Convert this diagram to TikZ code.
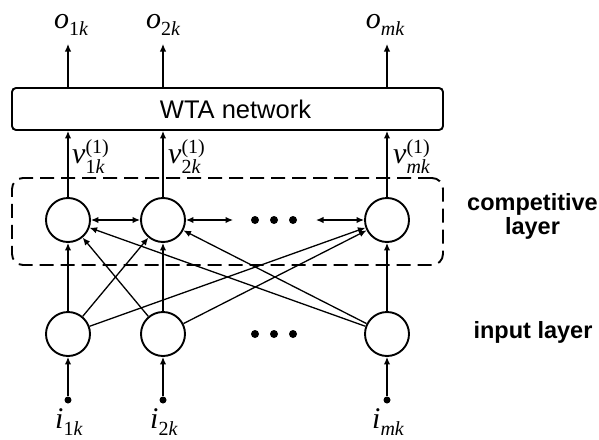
\documentclass[tikz,border=0pt]{standalone}
\usepackage{fontspec}
\setmainfont{Liberation Sans}
\newfontfamily\tms{Liberation Serif}
\usetikzlibrary{arrows.meta}

% symbol sizes for the italic signal names
\newcommand\basesz{\fontsize{30}{30}\selectfont}
\newcommand\idxsz{\fontsize{20}{19}\selectfont}
% symbol with subscript
\newcommand\symsub[2]{{\tms\basesz\itshape #1}\raisebox{-7pt}{\tms\idxsz #2}}
% symbol with superscript stacked over subscript, set as one block
\newcommand\symsubsup[3]{{\tms\basesz\itshape #1}\raisebox{-10pt}{\tms\idxsz\renewcommand\arraystretch{1}\begin{tabular}[b]{@{}l@{}}#3\\#2\end{tabular}}}

\tikzset{
  neuron/.style={circle, draw, line width=1.9pt, minimum size=44pt, inner sep=0pt},
  terminal/.style={circle, fill, minimum size=7pt, inner sep=0pt},
  ellipsisdot/.style={circle, fill, minimum size=8pt, inner sep=0pt},
  wtabox/.style={draw, line width=1.9pt, rounded corners=4pt, minimum width=431pt, minimum height=42pt, inner sep=0pt},
  layerbox/.style={draw, line width=1.9pt, rounded corners=11pt, dash pattern=on 14pt off 7pt, minimum width=431pt, minimum height=87pt, inner sep=0pt},
  conn/.style={line width=1.3pt, -{Latex[length=7.5pt,width=6.5pt]}},
  biconn/.style={line width=1.3pt, {Latex[length=7.5pt,width=6.5pt]}-{Latex[length=7.5pt,width=6.5pt]}},
  layertext/.style={font=\fontsize{23.5}{24}\selectfont\bfseries, align=center, inner sep=0pt},
}

\begin{document}
\begin{tikzpicture}[x=1pt, y=-1pt]
  \path[use as bounding box] (0,0) rectangle (599,439);

  % WTA network block
  \node[wtabox] (wta) at (227.5,109) {};
  \node[anchor=base, inner sep=0pt, font=\fontsize{25.5}{26}\selectfont] (wtatext) at (235.5,118) {WTA network};

  % competitive layer frame
  \node[layerbox] (comp) at (227.5,221.5) {};

  % competitive neurons
  \node[neuron, fill=white] (c1) at (68,220) {};
  \node[neuron, fill=white] (c2) at (163,220) {};
  \node[neuron, fill=white] (c3) at (387,220) {};

  % input neurons
  \node[neuron] (n1) at (68,334) {};
  \node[neuron] (n2) at (163,334) {};
  \node[neuron] (n3) at (387,334) {};

  % input terminals
  \node[terminal] (t1) at (68,400) {};
  \node[terminal] (t2) at (163,400) {};
  \node[terminal] (t3) at (387,400) {};

  % ellipses
  \foreach \x [count=\k] in {255,274,293} {
    \node[ellipsisdot] (ec\k) at (\x,220) {};
    \node[ellipsisdot] (ei\k) at (\x,334) {};
  }

  % lateral connections in the competitive layer
  \coordinate (latA) at (233,220);
  \coordinate (latB) at (316,220);
  \draw[biconn] (c1) -- (c2);
  \draw[biconn] (c2) -- (latA);
  \draw[biconn] (latB) -- (c3);

  % input -> competitive layer, fully connected
  \foreach \i in {1,2,3} {
    \foreach \j in {1,2,3} {
      \draw[conn] (n\i) -- (c\j);
    }
  }

  % terminals -> input neurons
  \foreach \i in {1,2,3} {
    \draw[conn] (t\i) -- (n\i);
  }

  % competitive neurons -> WTA network
  \foreach \i in {1,2,3} {
    \draw[conn] (c\i) -- (c\i |- wta.south);
  }

  % WTA network -> outputs
  \coordinate (out1) at (68,44);
  \coordinate (out2) at (163,44);
  \coordinate (out3) at (387,44);
  \draw[conn] (wta.north -| c1) -- (out1);
  \draw[conn] (wta.north -| c2) -- (out2);
  \draw[conn] (wta.north -| c3) -- (out3);

  % output labels
  \node[anchor=base, inner sep=0pt] (lo1) at (71,28) {\symsub{o}{1\itshape k}};
  \node[anchor=base, inner sep=0pt] (lo2) at (163,28) {\symsub{o}{2\itshape k}};
  \node[anchor=base, inner sep=0pt] (lo3) at (385,28) {\symsub{o}{\itshape mk}};

  % competitive outputs
  \node[anchor=base west, inner sep=0pt] (lv1) at (72,163) {\symsubsup{v}{1\itshape k}{(1)}};
  \node[anchor=base west, inner sep=0pt] (lv2) at (168,163) {\symsubsup{v}{2\itshape k}{(1)}};
  \node[anchor=base west, inner sep=0pt] (lv3) at (393,163) {\symsubsup{v}{\itshape mk}{(1)}};

  % input labels
  \node[anchor=base west, inner sep=0pt] (li1) at (55,428) {\symsub{i}{1\itshape k}};
  \node[anchor=base west, inner sep=0pt] (li2) at (150,428) {\symsub{i}{2\itshape k}};
  \node[anchor=base west, inner sep=0pt] (li3) at (372,428) {\symsub{i}{\itshape mk}};

  % layer captions
  \node[layertext] (capcomp) at (532.5,216) {competitive\\layer};
  \node[layertext, anchor=base] (capin) at (533,338) {input layer};
\end{tikzpicture}
\end{document}
